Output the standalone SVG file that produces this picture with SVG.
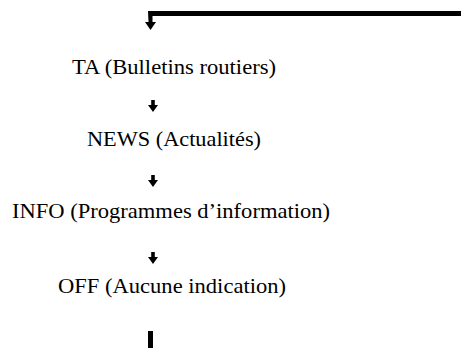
<svg xmlns="http://www.w3.org/2000/svg" width="461" height="348" viewBox="0 0 461 348">
<style>
text{font-family:"Liberation Serif","DejaVu Serif",serif;font-size:22px;fill:#000;text-anchor:middle}
.arr{fill:#000}
</style>
<defs>
<path id="sa" d="M-1.8,0 H1.8 V5 H5 L0,12 L-5,5 H-1.8 Z"/>
</defs>
<g id="connectors" class="arr">
<path d="M148,11 H461 V16 H152.5 V22 H156 L150.5,30 L145,22 H148.5 Z"/>
<use href="#sa" x="153" y="100"/>
<use href="#sa" x="153" y="175"/>
<use href="#sa" x="153" y="252"/>
<rect x="148" y="331" width="5" height="17"/>
</g>
<g id="ta"><text x="174" y="74" textLength="204" lengthAdjust="spacingAndGlyphs">TA (Bulletins routiers)</text></g>
<g id="news"><text x="174" y="146" textLength="174" lengthAdjust="spacingAndGlyphs">NEWS (Actualités)</text></g>
<g id="info"><text x="171" y="218" textLength="318" lengthAdjust="spacingAndGlyphs">INFO (Programmes d’information)</text></g>
<g id="off"><text x="172" y="293" textLength="228" lengthAdjust="spacingAndGlyphs">OFF (Aucune indication)</text></g>
</svg>
